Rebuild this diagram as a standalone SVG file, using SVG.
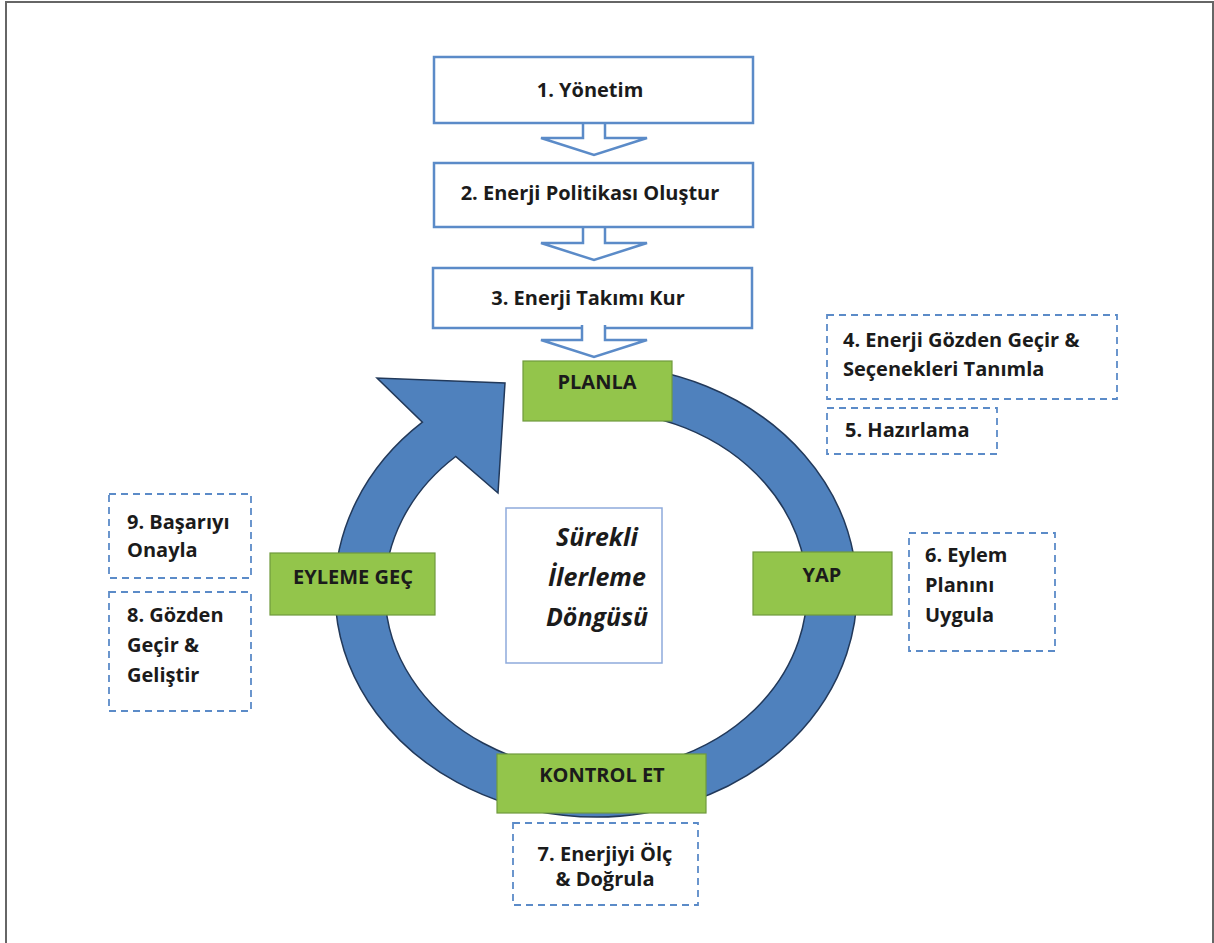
<svg xmlns="http://www.w3.org/2000/svg" width="1214" height="943" viewBox="0 0 1214 943">
<defs>
<style>
.t{font-family:"Open Sans","Liberation Sans",sans-serif;font-weight:bold;font-size:20px;fill:#1b1b1b}
.c{text-anchor:middle}
.step{fill:#fff;stroke:#5b8bc8;stroke-width:2.5}
.arr{fill:#fff;stroke:#5b8bc8;stroke-width:2.5;stroke-linejoin:miter}
.green{fill:#93c54b;stroke:#6f9a3c;stroke-width:1.2}
.dash{fill:#fff;stroke:#5b8bc8;stroke-width:1.8;stroke-dasharray:7 5}
.ctr{font-family:"Open Sans","Liberation Sans",sans-serif;font-weight:bold;font-style:italic;font-size:25px;fill:#1b1b1b;text-anchor:middle}
</style>
</defs>
<rect width="1214" height="943" fill="#fff"/>
<path d="M6,945 V2 H1213 V945" fill="none" stroke="#666" stroke-width="2"/>

<g id="connectors">
<path id="cycle" d="M596,365 A261,226 0 1 1 422.4,422.2 L377,378 L505,383 L498,493 L455.7,456.5 A211,180 0 1 0 596,411 Z" fill="#4f81bd" stroke="#22395a" stroke-width="1.5"/>
<path d="M583,120 V138 H541 L594,155 L647,138 H605 V120" class="arr"/>
<path d="M583,224 V243 H541 L594,260 L647,243 H605 V224" class="arr"/>
</g>

<g id="step1"><rect class="step" x="434" y="57" width="319" height="66"/><text class="t c" x="590" y="97">1. Yönetim</text></g>
<g id="step2"><rect class="step" x="434" y="163" width="319" height="64"/><text class="t c" x="590" y="200">2. Enerji Politikası Oluştur</text></g>
<g id="step3"><rect class="step" x="433" y="268" width="319" height="60"/><text class="t c" x="588" y="305">3. Enerji Takımı Kur</text></g>
<g id="arrow3"><path d="M582,325 V340 H541 L594,357 L647,340 H605 V325" class="arr"/></g>

<g id="planla"><rect class="green" x="523" y="361" width="149" height="60"/><text class="t c" x="597" y="389">PLANLA</text></g>
<g id="yap"><rect class="green" x="753" y="552" width="139" height="63"/><text class="t c" x="822" y="582">YAP</text></g>
<g id="kontrol"><rect class="green" x="497" y="754" width="209" height="59"/><text class="t c" x="602" y="782">KONTROL ET</text></g>
<g id="eyleme"><rect class="green" x="270" y="553" width="165" height="62"/><text class="t c" x="353" y="584">EYLEME GEÇ</text></g>

<g id="center"><rect x="506" y="508" width="156" height="155" fill="#fff" stroke="#8eaadb" stroke-width="1.5"/>
<text class="ctr" x="597" y="546">Sürekli</text><text class="ctr" x="597" y="586">İlerleme</text><text class="ctr" x="597" y="626">Döngüsü</text></g>

<g id="box4"><rect class="dash" x="827" y="315" width="290" height="84"/><text class="t" x="843" y="347">4. Enerji Gözden Geçir &amp;</text><text class="t" x="843" y="376">Seçenekleri Tanımla</text></g>
<g id="box5"><rect class="dash" x="827" y="408" width="170" height="46"/><text class="t" x="845" y="437">5. Hazırlama</text></g>
<g id="box6"><rect class="dash" x="909" y="533" width="146" height="118"/><text class="t" x="925" y="562">6. Eylem</text><text class="t" x="925" y="592">Planını</text><text class="t" x="925" y="622">Uygula</text></g>
<g id="box7"><rect class="dash" x="513" y="823" width="185" height="82"/><text class="t c" x="605" y="861">7. Enerjiyi Ölç</text><text class="t c" x="605" y="886">&amp; Doğrula</text></g>
<g id="box8"><rect class="dash" x="109" y="592" width="142" height="119"/><text class="t" x="127" y="622">8. Gözden</text><text class="t" x="127" y="652">Geçir &amp;</text><text class="t" x="127" y="682">Geliştir</text></g>
<g id="box9"><rect class="dash" x="109" y="494" width="142" height="84"/><text class="t" x="127" y="529">9. Başarıyı</text><text class="t" x="127" y="557">Onayla</text></g>
</svg>
